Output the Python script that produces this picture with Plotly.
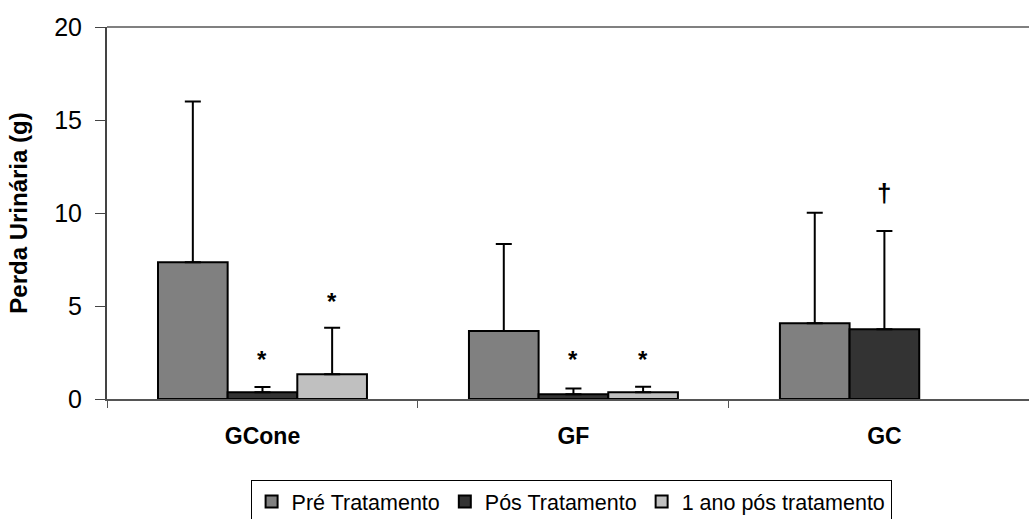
import plotly.graph_objects as go

categories = ["GCone", "GF", "GC"]
series_names = ["Pré Tratamento", "Pós Tratamento", "1 ano pós tratamento"]
pre_vals = [7.35, 3.66, 4.07]
pre_err = [8.65, 4.67, 5.95]
pos_vals = [0.36, 0.25, 3.75]
pos_err = [0.29, 0.32, 5.28]
ano_vals = [1.33, 0.36, None]
ano_err = [2.5, 0.3, None]
colors = ["#808080", "#333333", "#c0c0c0"]

# significance markers: (category index, series index, label, y position)
sig_cat = [0, 0, 1, 1, 2]
sig_series = [1, 2, 1, 2, 1]
sig_text = ["*", "*", "*", "*", "†"]
sig_y = [2.1, 5.25, 2.1, 2.1, 11.1]

bargap = 0.328
vals = [pre_vals, pos_vals, ano_vals]
errs = [pre_err, pos_err, ano_err]

fig = go.Figure()
for name, v, e, c in zip(series_names, vals, errs, colors):
    fig.add_trace(go.Bar(
        x=categories, y=v, name=name,
        marker=dict(color=c, line=dict(color="black", width=2)),
        error_y=dict(type="data", array=e, symmetric=False,
                     arrayminus=[0] * len(e), color="black",
                     thickness=2, width=8),
    ))

w = (1 - bargap) / 3
for ci, si, t, yv in zip(sig_cat, sig_series, sig_text, sig_y):
    fig.add_annotation(
        x=ci + (si - 1) * w, y=yv, xref="x", yref="y", text=t,
        showarrow=False, yanchor="middle",
        font=dict(family="Liberation Sans, Arial", size=24 if t == "*" else 26,
                  color="black", weight="bold"),
    )

fig.add_shape(type="line", xref="paper", yref="paper", x0=0, x1=1, y0=1, y1=1,
              line=dict(color="#808080", width=2))

fig.update_layout(
    width=1029, height=519,
    margin=dict(l=107, r=0, t=27, b=120),
    paper_bgcolor="white", plot_bgcolor="white",
    barmode="group", bargap=bargap, bargroupgap=0,
    font=dict(family="Liberation Sans, Arial", color="black"),
    showlegend=True,
    legend=dict(orientation="h", xref="container", yref="container",
                x=0.555, xanchor="center",
                y=0.0752, yanchor="top",
                bordercolor="black", borderwidth=1,
                font=dict(size=21.5), itemwidth=30,
                traceorder="normal"),
    xaxis=dict(
        type="category", range=[-0.5, 2.465], automargin=False,
        showline=True, linecolor="#555555", linewidth=2,
        ticks="outside", tickson="boundaries", ticklen=7,
        tickcolor="#555555", tickwidth=1,
        tickfont=dict(size=23, weight="bold"),
        ticklabelstandoff=15,
        showgrid=False,
    ),
    yaxis=dict(
        range=[0, 20], tickvals=[0, 5, 10, 15, 20], automargin=False,
        showline=True, linecolor="#444444", linewidth=2,
        ticks="outside", ticklen=10, tickcolor="#444444", tickwidth=1,
        tickfont=dict(size=25), showgrid=False, zeroline=False,
        ticklabelstandoff=8,
        title=dict(text="Perda Urinária (g)", font=dict(size=24, weight="bold"),
                   standoff=20),
    ),
)

fig.write_html("out.html", config={"displayModeBar": False},
               post_script="document.body.style.margin='0';")
